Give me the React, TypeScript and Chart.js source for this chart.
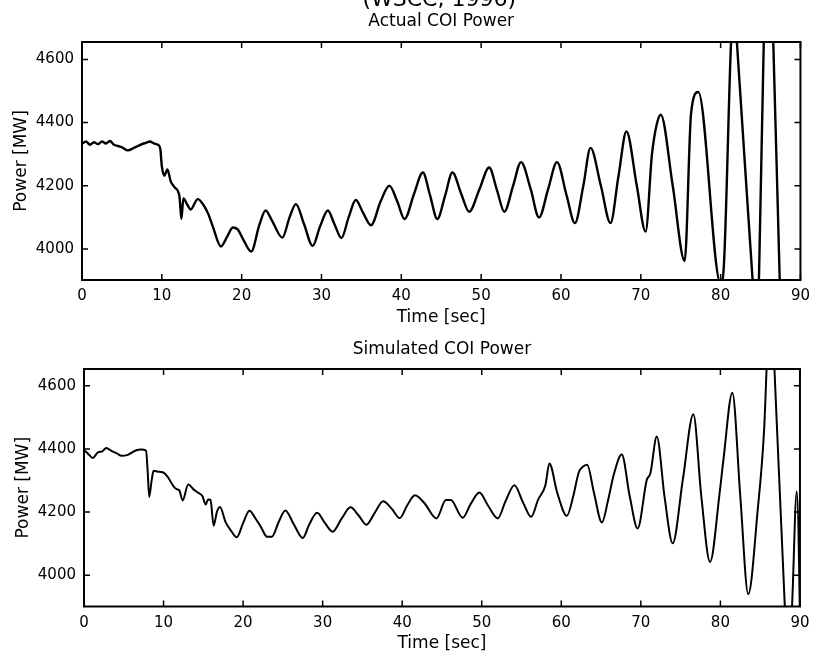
import React, { useEffect, useRef } from 'react';
import { Chart, registerables } from 'chart.js';

Chart.register(...registerables);

const FONT = '"DejaVu Sans", "Liberation Sans", Arial, sans-serif';

const xTicks = [0, 10, 20, 30, 40, 50, 60, 70, 80, 90];
const yTicks = [4000, 4200, 4400, 4600];

const headerText = '(WSCC, 1996)';
const topTitle = 'Actual COI Power';
const bottomTitle = 'Simulated COI Power';
const xLabel = 'Time [sec]';
const yLabel = 'Power [MW]';

const actualTime = [
  0, 0.5, 1, 1.5, 2, 2.5, 3, 3.5, 4, 4.5, 5, 5.75, 6.5, 7, 7.5, 8, 8.5, 9, 9.5, 9.8,
  10.0, 10.3, 10.7, 11.1, 11.6, 12.2, 12.45, 12.7, 13.2, 13.6, 14.5, 15.2, 15.8, 16.4, 17.4,
  18.2, 18.9, 19.5, 20.2, 21.2, 22.2, 23.0, 23.8, 25.1, 26.0, 26.8, 27.8, 28.9, 29.8, 30.8,
  31.6, 32.5, 33.4, 34.3, 35.2, 36.2, 37.4, 38.5, 39.5, 40.4, 41.6, 42.7, 43.6, 44.5, 45.5,
  46.4, 47.5, 48.5, 49.8, 51.0, 52.0, 52.9, 54.0, 55.0, 56.2, 57.25, 58.4, 59.5, 60.7, 61.75,
  62.8, 63.7, 65.0, 66.2, 67.2, 68.2, 69.5, 70.6, 71.4, 72.0, 72.5, 74.0, 75.5, 76.3, 77.2,
  80.0, 80.4, 81.3, 81.7, 82.05, 84.0, 84.4, 84.8, 85.4, 86.0, 86.6, 87.4, 87.7,
];
const actualPower = [
  4333, 4340, 4330, 4338, 4332, 4340, 4334, 4342, 4330, 4326, 4322, 4312, 4320, 4326, 4332, 4336, 4340, 4334, 4330, 4318,
  4262, 4232, 4252, 4215, 4195, 4168, 4095, 4160, 4140, 4125, 4158, 4140, 4112, 4070, 4008,
  4040, 4068, 4062, 4030, 3992, 4075, 4122, 4090, 4036, 4100, 4142, 4080, 4010, 4070, 4122,
  4080, 4035, 4100, 4155, 4115, 4075, 4150, 4200, 4150, 4095, 4175, 4242, 4170, 4095, 4170,
  4242, 4175, 4118, 4190, 4258, 4185, 4118, 4200, 4275, 4190, 4100, 4190, 4275, 4170, 4082,
  4200, 4320, 4200, 4082, 4230, 4372, 4200, 4055, 4300, 4395, 4425, 4200, 3962, 4430, 4497,
  3890, 3945, 4650, 4800, 4650, 3905, 3750, 3905, 4650, 4900, 4650, 3905, 3750,
];

const simTime = [
  0, 0.5, 1.1, 1.75, 2.3, 2.8, 3.5, 4.2, 4.7, 5.5, 6.5, 7.2, 7.8, 8.0, 8.2, 8.5, 8.75, 9.3, 9.9,
  10.5, 11.3, 11.7, 12.0, 12.4, 13.1, 13.8, 14.3, 14.9, 15.3, 15.6, 15.9, 16.3, 16.7, 17.1, 17.8,
  18.5, 19.2, 20.0, 20.8, 21.6, 22.3, 23.0, 23.6, 24.5, 25.3, 26.4, 27.5, 28.3, 29.3, 30.3, 31.25,
  32.4, 33.5, 34.5, 35.5, 36.6, 37.6, 38.7, 39.7, 40.6, 41.6, 42.8, 44.3, 45.5, 46.1, 47.6, 48.6,
  49.7, 50.8, 52.0, 53.0, 54.1, 55.2, 56.2, 57.1, 58.0, 58.5, 59.5, 60.7, 61.5, 62.2, 62.8, 63.25,
  64.1, 65.1, 65.9, 66.6, 67.6, 68.6, 69.6, 70.75, 71.2, 72.0, 73.0, 74.0, 75.3, 76.6, 77.6, 78.7,
  79.9, 80.4, 81.5, 82.5, 83.5, 84.7, 85.5, 85.8, 86.3, 86.8, 88.1, 88.5, 89.0, 89.6, 90.2,
];
const simPower = [
  4396, 4385, 4371, 4389, 4392, 4403, 4393, 4385, 4378, 4381, 4395, 4398, 4394, 4330, 4248, 4300, 4331, 4328, 4326,
  4312, 4280, 4272, 4268, 4237, 4287, 4271, 4262, 4250, 4224, 4240, 4239, 4157, 4200, 4216, 4168,
  4140, 4120, 4165, 4204, 4178, 4150, 4122, 4122, 4170, 4205, 4160, 4118, 4160, 4198, 4165, 4138,
  4180, 4215, 4190, 4160, 4200, 4234, 4210, 4181, 4220, 4253, 4228, 4180, 4238, 4238, 4182, 4225,
  4262, 4220, 4180, 4235, 4285, 4230, 4185, 4240, 4285, 4354, 4260, 4188, 4250, 4326, 4345, 4350,
  4262, 4167, 4240, 4319, 4382, 4250, 4148, 4302, 4323, 4439, 4244, 4101, 4307, 4510, 4250, 4042,
  4260, 4370, 4578, 4250, 3940, 4210, 4463, 4650, 4950, 4650, 3900, 3700, 3900, 4265, 3600,
];

const framePlugin = {
  id: 'matlabFrame',
  afterDatasetsDraw(chart: any) {
    const { ctx, chartArea: a, scales } = chart;
    const L = 6;
    ctx.save();
    ctx.strokeStyle = '#000';
    ctx.lineWidth = 1.5;
    ctx.beginPath();
    for (const t of scales.x.ticks) {
      const px = scales.x.getPixelForValue(t.value);
      ctx.moveTo(px, a.bottom);
      ctx.lineTo(px, a.bottom - L);
      ctx.moveTo(px, a.top);
      ctx.lineTo(px, a.top + L);
    }
    for (const t of scales.y.ticks) {
      const py = scales.y.getPixelForValue(t.value);
      ctx.moveTo(a.left, py);
      ctx.lineTo(a.left + L, py);
      ctx.moveTo(a.right, py);
      ctx.lineTo(a.right - L, py);
    }
    ctx.stroke();
    ctx.lineWidth = 2;
    ctx.strokeRect(a.left, a.top, a.right - a.left, a.bottom - a.top);
    ctx.restore();
  },
};

const headerPlugin = {
  id: 'header',
  afterDraw(chart: any) {
    const opts = chart.options.plugins.header;
    if (!opts || !opts.text) return;
    const { ctx, chartArea: a } = chart;
    ctx.save();
    ctx.fillStyle = '#000';
    ctx.font = `22px ${FONT}`;
    ctx.textAlign = 'center';
    ctx.textBaseline = 'alphabetic';
    ctx.fillText(opts.text, (a.left + a.right) / 2 + opts.dx, opts.y);
    ctx.restore();
  },
};

type PanelCfg = {
  height: number;
  title: string;
  times: number[];
  values: number[];
  yMin: number;
  yMax: number;
  yWidth: number;
  padRight: number;
  titleTop: number;
  titleBottom: number;
  xHeight: number;
  xTickPad: number;
  xTitleBottom: number;
  yTitlePad: number;
  lineWidth: number;
  header?: string;
};

function Panel({ top, cfg }: { top: number; cfg: PanelCfg }) {
  const ref = useRef<HTMLCanvasElement>(null);
  useEffect(() => {
    const data = cfg.times.map((t, i) => ({ x: t, y: cfg.values[i] }));
    const chart = new Chart(ref.current as HTMLCanvasElement, {
      type: 'line',
      data: {
        datasets: [
          {
            data,
            borderColor: '#000',
            borderWidth: cfg.lineWidth,
            pointRadius: 0,
            fill: false,
            cubicInterpolationMode: 'monotone',
          },
        ],
      },
      plugins: [framePlugin, headerPlugin],
      options: {
        animation: false,
        responsive: false,
        maintainAspectRatio: false,
        events: [],
        layout: { padding: { left: 0, right: cfg.padRight, top: 0, bottom: 0 } },
        plugins: {
          legend: { display: false },
          tooltip: { enabled: false },
          title: {
            display: true,
            text: cfg.title,
            fullSize: false,
            color: '#000',
            font: { family: FONT, size: 17, weight: 'normal' },
            padding: { top: cfg.titleTop, bottom: cfg.titleBottom },
          },
          header: { text: cfg.header || '', y: 6, dx: -2 },
        } as any,
        scales: {
          x: {
            type: 'linear',
            min: 0,
            max: 90,
            afterBuildTicks: (s: any) => {
              s.ticks = xTicks.map((v) => ({ value: v }));
            },
            afterFit: (s: any) => {
              s.height = cfg.xHeight;
            },
            grid: { display: false, drawTicks: false },
            border: { display: false },
            ticks: {
              color: '#000',
              font: { family: FONT, size: 15 },
              padding: cfg.xTickPad,
              maxRotation: 0,
              autoSkip: false,
              callback: (v: any) => String(v),
            },
            title: {
              display: true,
              text: xLabel,
              color: '#000',
              font: { family: FONT, size: 17 },
              padding: { top: 0, bottom: cfg.xTitleBottom },
            },
          },
          y: {
            type: 'linear',
            min: cfg.yMin,
            max: cfg.yMax,
            afterBuildTicks: (s: any) => {
              s.ticks = yTicks.map((v) => ({ value: v }));
            },
            afterFit: (s: any) => {
              s.width = cfg.yWidth;
            },
            grid: { display: false, drawTicks: false },
            border: { display: false },
            ticks: {
              color: '#000',
              font: { family: FONT, size: 15 },
              padding: 8,
              autoSkip: false,
              callback: (v: any) => String(v),
            },
            title: {
              display: true,
              text: yLabel,
              color: '#000',
              font: { family: FONT, size: 17 },
              padding: { top: cfg.yTitlePad, bottom: 0 },
            },
          },
        },
      } as any,
    });
    return () => chart.destroy();
  }, []);
  return (
    <canvas
      ref={ref}
      width={817}
      height={cfg.height}
      style={{ position: 'absolute', left: 0, top, width: 817, height: cfg.height }}
    />
  );
}

const topCfg: PanelCfg = {
  height: 330,
  title: topTitle,
  times: actualTime,
  values: actualPower,
  yMin: 3902,
  yMax: 4655,
  yWidth: 82,
  padRight: 16,
  titleTop: 11.8,
  titleBottom: 9.8,
  xHeight: 50,
  xTickPad: 7,
  xTitleBottom: 1.8,
  yTitlePad: 11.8,
  lineWidth: 2.4,
  header: headerText,
};

const bottomCfg: PanelCfg = {
  height: 329,
  title: bottomTitle,
  times: simTime,
  values: simPower,
  yMin: 3901,
  yMax: 4653,
  yWidth: 84,
  padRight: 13,
  titleTop: 9.8,
  titleBottom: 8.8,
  xHeight: 52.5,
  xTickPad: 7.5,
  xTitleBottom: 4.8,
  yTitlePad: 13.8,
  lineWidth: 2,
};

export default function App() {
  return (
    <div
      style={{
        position: 'absolute',
        left: 0,
        top: 0,
        width: 817,
        height: 659,
        background: '#fff',
        overflow: 'hidden',
      }}
    >
      <Panel top={0} cfg={topCfg} />
      <Panel top={330} cfg={bottomCfg} />
    </div>
  );
}
